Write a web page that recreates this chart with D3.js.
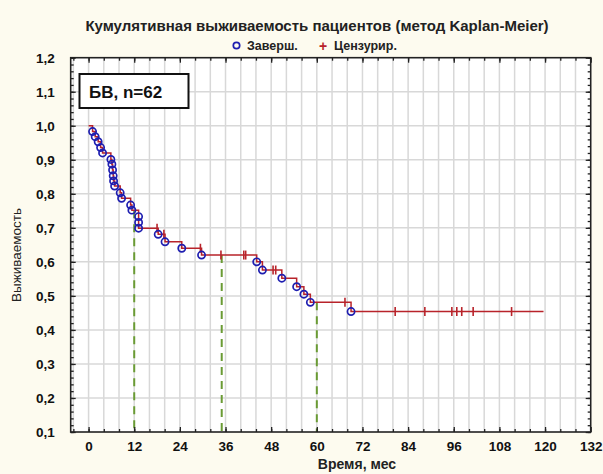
<!DOCTYPE html>
<html>
<head>
<meta charset="utf-8">
<script src="https://cdn.jsdelivr.net/npm/d3@7"></script>
<style>
  html, body { margin: 0; padding: 0; background: #fdfbef; }
  svg { display: block; }
  text { font-family: "Liberation Sans", Arial, sans-serif; }
</style>
</head>
<body>
<svg id="chart" width="603" height="474"></svg>
<script>
// Kaplan-Meier curve: completed cases (events) and censored observations
const eventTimes = [1.05, 1.74, 2.52, 3.16, 3.68, 5.86, 6.13, 6.31, 6.47, 6.57, 6.84, 8.31, 8.68,
  11.05, 11.39, 13.15, 13.15, 13.15, 18.3, 20.1, 24.5, 29.7, 44.2, 45.7, 50.8, 54.7, 56.6, 58.3, 69.0];
const eventSurv = [0.983, 0.968, 0.953, 0.936, 0.920, 0.901, 0.887, 0.870, 0.853, 0.838, 0.823, 0.803, 0.787,
  0.767, 0.752, 0.733, 0.716, 0.699, 0.681, 0.659, 0.640, 0.620, 0.600, 0.576, 0.552, 0.527, 0.505, 0.481, 0.454];
const censorTimes = [18.0, 19.8, 29.4, 34.8, 40.8, 41.3, 48.5, 49.2, 67.4, 80.6, 88.4, 95.5, 96.8, 98.1, 101.1, 111.2];
const lastFollowUp = 119.6;
const markTimes = [12, 35, 60];          // 1-, 3- and 5-year reference lines
const xTickLabels = [0, 12, 24, 36, 48, 60, 72, 84, 96, 108, 120, 132];
const yTickLabels = [0.1, 0.2, 0.3, 0.4, 0.5, 0.6, 0.7, 0.8, 0.9, 1.0, 1.1, 1.2];

const titleText = "Кумулятивная выживаемость пациентов (метод Kaplan-Meier)";
const legendEvent = "Заверш.";
const legendCensor = "Цензурир.";
const groupLabel = "БВ, n=62";
const xTitle = "Время, мес";
const yTitle = "Выживаемость";

const svg = d3.select("#chart");
const L = 70.7, R = 590.7, T = 57.7, B = 432;

const x = d3.scaleLinear().domain([-4.7, 132]).range([L, R]);
const y = d3.scaleLinear().domain([0.1, 1.2]).range([B, T]);

// step value of the curve at time t
function survAt(t) {
  let s = 1;
  for (let i = 0; i < eventTimes.length; i++) if (eventTimes[i] <= t) s = eventSurv[i];
  return s;
}

// plot area
svg.append("rect").attr("x", L).attr("y", T).attr("width", R - L).attr("height", B - T).attr("fill", "#ffffff");

// grid
const grid = svg.append("g").attr("stroke", "#d8d8d8").attr("stroke-width", 1.5);
grid.selectAll(".vx").data(d3.range(-4, 132, 4)).join("line")
  .attr("x1", d => x(d)).attr("x2", d => x(d)).attr("y1", T).attr("y2", B);
grid.selectAll(".hy").data(d3.range(2, 12).map(d => d / 10)).join("line")
  .attr("y1", d => y(d)).attr("y2", d => y(d)).attr("x1", L).attr("x2", R);

// reference lines at fixed follow-up times
svg.append("g").selectAll("line").data(markTimes).join("line")
  .attr("x1", d => x(d)).attr("x2", d => x(d))
  .attr("y1", d => y(survAt(d))).attr("y2", B)
  .attr("stroke", "#6a9b34").attr("stroke-width", 2).attr("stroke-dasharray", "8,6");

// step curve
const pts = [[0, 1]];
let prev = 1;
eventTimes.forEach((t, i) => { pts.push([t, prev]); pts.push([t, eventSurv[i]]); prev = eventSurv[i]; });
pts.push([lastFollowUp, prev]);
svg.append("path").datum(pts)
  .attr("d", d3.line().x(d => x(d[0])).y(d => y(d[1])))
  .attr("fill", "none").attr("stroke", "#b8232a").attr("stroke-width", 1.5);

// censored marks
svg.append("g").selectAll("line").data(censorTimes).join("line")
  .attr("x1", d => x(d)).attr("x2", d => x(d))
  .attr("y1", d => y(survAt(d)) - 4.5).attr("y2", d => y(survAt(d)) + 4.5)
  .attr("stroke", "#b8232a").attr("stroke-width", 1.6);

// events
svg.append("g").selectAll("circle").data(eventTimes).join("circle")
  .attr("cx", d => x(d)).attr("cy", (d, i) => y(eventSurv[i])).attr("r", 3.6)
  .attr("fill", "none").attr("stroke", "#1e1eb0").attr("stroke-width", 1.7);

// axes (ticks inside the frame)
const fmt = d => d3.format(".1f")(d).replace(".", ",");
const axB = svg.append("g").attr("transform", `translate(0,${B})`)
  .call(d3.axisBottom(x).tickValues(xTickLabels).tickSize(-5).tickPadding(9));
const axT = svg.append("g").attr("transform", `translate(0,${T})`)
  .call(d3.axisTop(x).tickValues(xTickLabels).tickSize(-5).tickFormat(""));
const axBm = svg.append("g").attr("transform", `translate(0,${B})`)
  .call(d3.axisBottom(x).tickValues(d3.range(-4, 132, 4)).tickSize(-3).tickFormat(""));
const axTm = svg.append("g").attr("transform", `translate(0,${T})`)
  .call(d3.axisTop(x).tickValues(d3.range(-4, 132, 4)).tickSize(-3).tickFormat(""));
const axL = svg.append("g").attr("transform", `translate(${L},0)`)
  .call(d3.axisLeft(y).tickValues(yTickLabels).tickSize(-5).tickPadding(16).tickFormat(fmt));
const axR = svg.append("g").attr("transform", `translate(${R},0)`)
  .call(d3.axisRight(y).tickValues(yTickLabels).tickSize(-5).tickFormat(""));
const minorY = d3.range(10, 121, 2).map(d => d / 100);
const axLm = svg.append("g").attr("transform", `translate(${L},0)`)
  .call(d3.axisLeft(y).tickValues(minorY).tickSize(-3).tickFormat(""));
const axRm = svg.append("g").attr("transform", `translate(${R},0)`)
  .call(d3.axisRight(y).tickValues(minorY).tickSize(-3).tickFormat(""));
[axB, axT, axBm, axTm, axL, axR, axLm, axRm].forEach(g => {
  g.select(".domain").remove();
  g.selectAll(".tick line").attr("stroke", "#222").attr("stroke-width", 1.3);
  g.selectAll("text").attr("fill", "#111").attr("font-size", 13.5).attr("font-weight", "bold")
    .attr("font-family", "'Liberation Sans', Arial, sans-serif");
});

// frame
svg.append("rect").attr("x", L).attr("y", T).attr("width", R - L).attr("height", B - T)
  .attr("fill", "none").attr("stroke", "#222").attr("stroke-width", 1.6);

// group label box
svg.append("rect").attr("x", 79.5).attr("y", 74).attr("width", 109).attr("height", 34)
  .attr("fill", "#ffffff").attr("stroke", "#111").attr("stroke-width", 2);
svg.append("text").attr("x", 89).attr("y", 97.5).attr("font-size", 17).attr("font-weight", "bold")
  .attr("fill", "#111").text(groupLabel);

// title and legend
svg.append("text").attr("x", 317).attr("y", 31).attr("text-anchor", "middle")
  .attr("font-size", 15).attr("font-weight", "bold").attr("fill", "#222").text(titleText);
svg.append("circle").attr("cx", 236.5).attr("cy", 45.5).attr("r", 3.2)
  .attr("fill", "none").attr("stroke", "#1e1eb0").attr("stroke-width", 1.7);
svg.append("text").attr("x", 247).attr("y", 50).attr("font-size", 12.5).attr("font-weight", "bold")
  .attr("fill", "#222").text(legendEvent);
svg.append("text").attr("x", 323).attr("y", 50.5).attr("text-anchor", "middle").attr("font-size", 14)
  .attr("font-weight", "bold").attr("fill", "#b8232a").text("+");
svg.append("text").attr("x", 334).attr("y", 50).attr("font-size", 12.5).attr("font-weight", "bold")
  .attr("fill", "#222").text(legendCensor);

// axis titles
svg.append("text").attr("x", 357).attr("y", 469).attr("text-anchor", "middle")
  .attr("font-size", 14).attr("font-weight", "bold").attr("fill", "#222").text(xTitle);
svg.append("text").attr("transform", "translate(21,255) rotate(-90)").attr("text-anchor", "middle")
  .attr("font-size", 13.5).attr("fill", "#222").text(yTitle);
</script>
</body>
</html>
